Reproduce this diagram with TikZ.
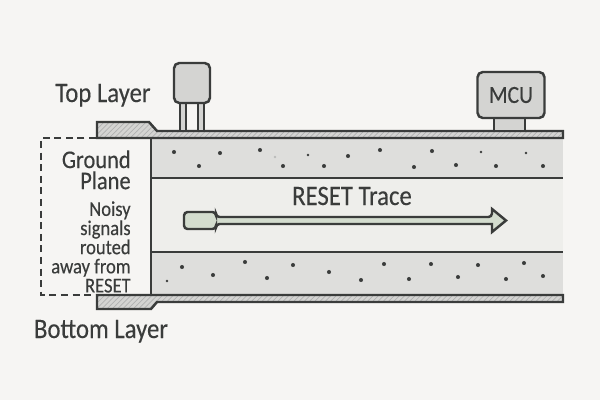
\documentclass[tikz,border=0pt]{standalone}
\usepackage{fontspec}
\setmainfont{Carlito}[FakeStretch=0.88,FakeBold=0.3]
\usetikzlibrary{patterns}
\definecolor{ink}{HTML}{3A3C3B}
\definecolor{paper}{HTML}{F6F5F3}
\definecolor{fillcore}{HTML}{DEDEDC}
\definecolor{fillgap}{HTML}{EEEEEB}
\definecolor{fillpart}{HTML}{D4D4D2}
\definecolor{filltrace}{HTML}{D3DCCE}
\tikzset{line/.style = {draw=ink, line width=1.4pt}}
\tikzset{copper/.style = {line, preaction={fill=fillpart}, pattern=north east lines, pattern color=ink!40}}
\tikzset{part/.style = {line, fill=fillpart, rounded corners=3pt, inner sep=0}}
\tikzset{lab/.style = {text=ink, inner sep=0, font=\fontsize{16}{12}\selectfont}}
\tikzset{note/.style = {text=ink, align=right, inner sep=0, font=\fontsize{12}{10.9}\selectfont}}
\tikzset{circ/.style = {fill=ink, circle, inner sep=0, minimum size=2.3}}
\tikzset{circsmall/.style = {circ, minimum size=1.5}}
\begin{document}
\begin{tikzpicture}[x=0.02cm, y=-0.02cm]
	\useasboundingbox [fill=paper] (0,0) rectangle (600,400);
	% board
	\fill [fillgap] (151,138) rectangle (563,295);
	\fill [fillcore] (151,138) rectangle (563,178);
	\fill [fillcore] (151,252) rectangle (563,295);
	\draw [line] (151,178) -- (563,178);
	\draw [line] (151,252) -- (563,252);
	\draw [line] (151,138) -- (151,295);
	% top and bottom layers
	\draw [copper] (97,138) -- (97,122) -- (149,122) -- (157,131) -- (563,131) -- (563,138) -- cycle;
	\draw [copper] (97,295) -- (97,309) -- (151,309) -- (157,302) -- (563,302) -- (563,295) -- cycle;
	\draw [line, dash pattern=on 4pt off 2.6pt] (96,138) -- (41,138) -- (41,295) -- (96,295);
	% parts
	\draw [line, fill=fillpart] (180,103) rectangle (186,131);
	\draw [line, fill=fillpart] (198,103) rectangle (204,131);
	\node (sensor) [part, minimum width=0.72cm, minimum height=0.8cm] at (192,83) {};
	\draw [line, fill=fillpart] (494,118) rectangle (525,131);
	\node (mcu) [part, minimum width=1.34cm, minimum height=0.92cm, text=ink, font=\fontsize{14}{14}\selectfont] at (511,95) {MCU};
	% dots
	\foreach \x/\y in {174/152, 199/166, 220/153, 260/150, 283/166, 324/166, 348/156, 380/150, 414/167, 432/151, 456/165, 496/166, 543/166}
		\node (top\x) [circ] at (\x,\y) {};
	\foreach \x/\y in {308/155, 481/152, 526/153}
		\node (top\x) [circsmall] at (\x,\y) {};
	\node (faint) [circsmall, fill=ink!35] at (275,157) {};
	\foreach \x/\y in {182/267, 213/275, 245/262, 267/278, 293/265, 329/272, 361/280, 384/264, 409/279, 431/264, 458/277, 478/265, 506/279, 524/263, 543/276}
		\node (bot\x) [circ] at (\x,\y) {};
	\node (botsmall) [circsmall] at (167,281) {};
	% trace
	\draw [line, fill=filltrace, rounded corners=2pt] (184,212) -- (216,212) -- (216,217) -- (492,217) [sharp corners] -- (492,209) -- (506,220.5) -- (492,232) -- (492,224) [rounded corners=2pt] -- (216,224) -- (216,229) -- (184,229) -- cycle;
	% labels
	\node (reset) [lab, anchor=base] at (352,205) {RESET Trace};
	\node (top) [lab, anchor=base] at (103,102) {Top Layer};
	\node (bottom) [lab, anchor=base] at (101,338) {Bottom Layer};
	\node (ground) [lab, align=right, anchor=north east, font=\fontsize{14.5}{12}\selectfont] at (131,150) {Ground\\Plane};
	\node (noisy) [note, anchor=north east] at (131,201) {Noisy\\signals\\routed\\away from\\RESET};
\end{tikzpicture}
\end{document}
